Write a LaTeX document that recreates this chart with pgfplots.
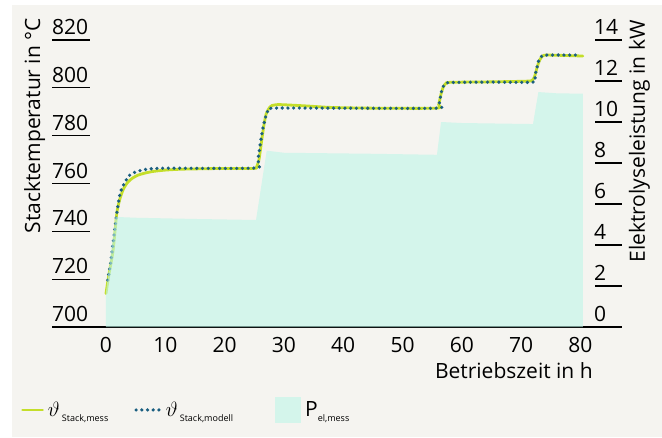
\documentclass[border=0pt]{standalone}
\usepackage{fontspec}
\setmainfont{Open Sans}
\usepackage{pgfplots}
\pgfplotsset{compat=1.18}
\definecolor{bgc}{RGB}{245,244,240}
\definecolor{lime}{RGB}{196,222,42}
\definecolor{dblue}{RGB}{26,94,128}
\definecolor{mint}{RGB}{190,246,232}
\newcommand{\fs}{\fontsize{21}{25}\selectfont}
\newcommand{\sub}[1]{\raisebox{-5pt}{\fontsize{9}{10}\selectfont #1}}
\tikzset{
  mess/.style={lime, line width=2.8pt, line cap=round},
  modell/.style={dblue, line width=3.6pt, line cap=round, dash pattern=on 0pt off 5.7pt},
}
\pgfplotsset{
  legA/.style={legend image code/.code={\draw[##1] (0pt,0pt) -- (20pt,0pt);}},
  legB/.style={legend image code/.code={\draw[##1] (2pt,0pt) -- (26pt,0pt);}},
  legC/.style={legend image code/.code={\fill[##1] (0pt,-13pt) rectangle (26pt,13pt);}},
}
\begin{document}
\begin{tikzpicture}
\fill[white] (0pt,0pt) rectangle (662pt,437pt);
\fill[bgc] (12pt,0pt) rectangle (662pt,432pt);
\begin{axis}[
  at={(52pt,110pt)}, anchor=south west,
  width=570pt, height=287pt, scale only axis,
  xmin=-9.1, xmax=87.0, ymin=700, ymax=820,
  axis x line*=bottom, axis y line*=left,
  x axis line style={-, line width=2pt},
  y axis line style={draw=none},
  xtick={0,10,...,80}, ytick={700,720,...,820},
  major x tick style={draw=none},
  major y tick style={black, line width=1.2pt},
  tick align=inside, major tick length=38pt,
  /pgf/number format/assume math mode=true,
  yticklabel style={anchor=south west, inner sep=0pt, yshift=5pt, font=\fs},
  xticklabel style={anchor=north, inner sep=0pt, yshift=-10pt, font=\fs},
  xlabel={Betriebszeit in h},
  ylabel={Stacktemperatur in °C},
  every axis x label/.style={at={(axis description cs:0.949,-0.1516)}, anchor=east, inner sep=0pt, font=\fs},
  every axis y label/.style={at={(axis description cs:-0.021,1.077)}, rotate=90, anchor=base east, inner sep=0pt, font=\fs},
]
\addplot[mess, smooth, tension=0.4] coordinates {
(0,714) (0.5,722) (1.2,732) (1.85,748) (2.4,754) (3,758) (3.7,760.6) (4.5,762.3)
(5.4,763.5) (6.5,764.3) (7.8,765) (10,765.6) (13,766) (20,766.3) (25,766.3)
(25.4,767) (25.8,770) (26.2,777) (26.6,784) (27,789) (27.5,791.5) (28,792.6)
(29,793) (31,792.8) (34,792.4) (38,791.8) (45,791.5) (55.7,791.5) (56.1,793)
(56.5,797.5) (56.9,800.5) (57.3,801.8) (58,802.3) (65,802.5) (71,802.8) (71.9,803.2)
(72.3,805) (72.7,808.7) (73.1,811.5) (73.6,813.3) (74.5,813.7) (80.4,813.3)
};
\addplot[modell, smooth, tension=0.4] coordinates {
(0.3,719.6) (0.8,727) (1.3,737) (1.85,748) (2.4,756) (3.2,760.6) (4,763.5) (5.2,765)
(7,766) (10,766.4) (25.1,766.5) (25.6,769.8) (26.1,778) (26.5,783.6) (27,788.6)
(27.3,790.3) (28.2,791.5) (40,791.5) (55.8,791.5) (56.2,793.5) (56.5,797.8)
(56.8,800.3) (57.2,801.6) (58,802.2) (65,802.4) (72,802.4) (72.3,805) (72.7,808.7)
(72.9,811) (73.5,813.3) (74.4,813.7) (80,813.7)
};
\end{axis}
\begin{axis}[
  at={(52pt,110pt)}, anchor=south west,
  width=570pt, height=287pt, scale only axis,
  xmin=-9.1, xmax=87.0, ymin=0, ymax=14,
  axis x line=none, axis y line*=right,
  y axis line style={draw=none},
  ytick={0,2,...,14},
  major y tick style={black, line width=1.2pt},
  tick align=inside, major tick length=27pt,
  /pgf/number format/assume math mode=true,
  yticklabel style={anchor=south west, inner sep=0pt, xshift=-28pt, yshift=5pt, font=\fs},
  ylabel={Elektrolyseleistung in kW},
  every axis y label/.style={at={(axis description cs:1.040,1.0697)}, rotate=90, anchor=base east, inner sep=0pt, font=\fs},
  legend columns=3,
  legend style={at={(axis description cs:-0.0544,-0.289)}, anchor=west, draw=none, fill=none, inner sep=0pt,
    font=\fs, /tikz/column 2/.style={column sep=24pt}, /tikz/column 4/.style={column sep=40pt},
    /tikz/every odd column/.append style={column sep=2pt}},
]
\addlegendimage{mess, legA}
\addlegendentry{$\vartheta$\hspace{2pt}\sub{Stack,mess}}
\addlegendimage{modell, legB}
\addlegendentry{$\vartheta$\hspace{2pt}\sub{Stack,modell}}
\addplot[draw=none, fill=mint, fill opacity=0.6, legC] coordinates {
(0,1.7) (1.6,5.37) (5,5.33) (15,5.27) (25.3,5.22) (27.1,8.6) (30,8.5) (45,8.45)
(55.8,8.4) (56.5,10.0) (60,9.95) (72,9.9) (72.9,11.46) (76,11.4) (80.4,11.38)
} \closedcycle;
\addlegendentry{P\sub{el,mess}}
\end{axis}
\end{tikzpicture}
\end{document}
